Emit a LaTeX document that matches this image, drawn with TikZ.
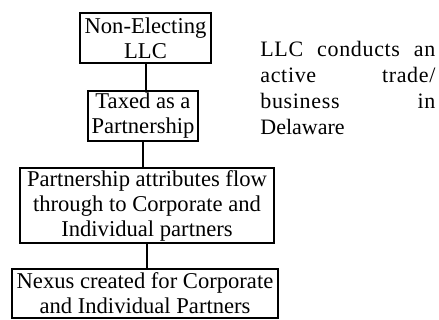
\documentclass[tikz,border=0pt]{standalone}
\usepackage{fontspec}
\setmainfont{Liberation Serif}
\usepackage{tikz}
\tikzset{
    taxbox/.style = {draw, rectangle, line width = 1pt, align = center, inner xsep = 1pt, inner ysep = 0pt, font = \fontsize{11.3}{12.5}\selectfont},
    link/.style = {line width = 1pt}
}
\newcommand{\spreadline}[2]{{\addfontfeature{LetterSpace=#1}\makebox[87.5pt][s]{#2}}}

\begin{document}
\begin{tikzpicture}
        \useasboundingbox (0pt, 0pt) rectangle (219.5pt, -160pt);

        % Nodes
        \node [taxbox, minimum width = 65.5pt, minimum height = 25pt] (llc) at (72.75pt, -19pt) {Non-Electing\\LLC};
        \node [taxbox, minimum width = 55pt, minimum height = 25pt] (tax) at (71.5pt, -58pt) {Taxed as a\\Partnership};
        \node [taxbox, minimum width = 127pt, minimum height = 37.5pt] (flow) at (73.5pt, -102.75pt) {Partnership attributes flow\\through to Corporate and\\Individual partners};
        \node [taxbox, minimum width = 133pt, minimum height = 24.5pt] (nexus) at (72.5pt, -146.75pt) {Nexus created for Corporate\\and Individual Partners};

        % Note on the right
        \node [anchor = north west, inner sep = 0pt, align = left, font = \fontsize{11}{13}\selectfont] (note) at (130pt, -20.5pt) {\spreadline{3}{LLC conducts an}\\\spreadline{3}{active trade/}\\\spreadline{3}{business in}\\Delaware};

        % Draw the links
        \draw [link] (llc.south) -- (llc.south |- tax.north);
        \draw [link] (tax.south) -- (tax.south |- flow.north);
        \draw [link] (flow.south) -- (flow.south |- nexus.north);

\end{tikzpicture}
\end{document}
